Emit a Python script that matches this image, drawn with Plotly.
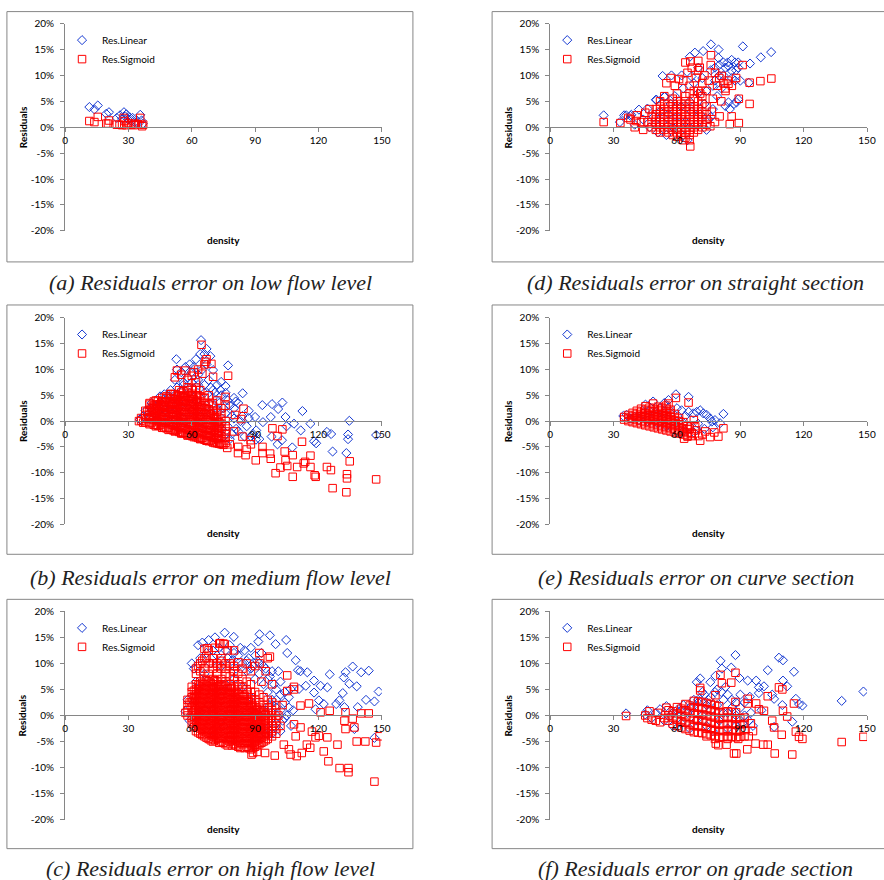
import plotly.graph_objects as go

# ---------------- data (density, residual %) ----------------
# scattered points
a_linear = [(11.5, 3.9), (13.9, 3.45), (15.5, 4.2), (19.5, 2.6), (20.8, 2.9), (24.5, 1.8), (26.0, 2.3),
            (27.0, 1.6), (27.9, 2.9), (28.5, 2.1), (29.0, 2.5), (29.8, 1.5), (30.7, 1.9), (31.5, 1.2),
            (32.0, 1.8), (33.0, 1.0), (34.0, 1.0), (35.6, 2.4), (36.2, 1.3), (36.8, 0.7)]
a_sigmoid = [(11.5, 1.2), (13.9, 1.0), (15.5, 2.0), (19.5, 0.7), (20.3, 0.7), (20.8, 1.3), (24.5, 0.5),
             (25.8, 0.5), (27.0, 0.4), (27.7, 1.8), (28.2, 1.2), (29.0, 0.4), (30.0, 0.8), (31.4, 0.5),
             (32.5, 0.4), (33.3, 0.7), (34.5, 0.6), (35.6, 1.8), (36.5, 0.2), (37.0, 0.5)]

b_linear = [(35.5, 0.3), (37, 1.0), (38, 2.0), (39, 1.2), (40, 0.5), (40.5, 2.5), (41, 3.5), (42, 1.5),
            (43, 0.2), (44, 2.8), (45, 3.8), (46, 1.0), (47, 2.2), (48, 4.2), (49, 0.0), (50, 3.0),
            (49, 5.0), (51, 1.5), (52, 4.5), (53, -0.5), (54, 2.5), (55, 6.0), (56, 0.5), (57, 3.5),
            (58, -1.5), (59, 5.5), (60, 2.0), (52, 8.0), (53, 10.0), (55, 9.5), (57, 10.5), (59, 11.0),
            (56, 7.5), (58, 8.5), (60, 9.5), (61, -2.5), (62, 4.0), (63, 7.0), (64, 1.0), (65, -1.5),
            (66, 5.5), (67, 3.0), (68, -3.0), (69, 1.5), (70, 4.5), (61, 10.5), (63, 9.0), (65, 10.0),
            (67, 11.0), (68, 8.0), (70, 6.0), (62, 12.0), (64, 13.0), (71, -2.0), (72, 2.5), (73, 0.0),
            (74, 5.0), (75, -3.0), (76, 1.5), (77, -1.0), (78, 3.0), (72, 7.0), (74, -1.5), (79, -2.5),
            (80, 0.5), (82, -2.0), (84, 1.0), (86, -1.0), (88, -3.0), (78, -3.5), (80, 2.5), (81, -1.5),
            (83, 0.0), (85, -3.0), (87, 2.0), (89, -2.5), (90, 0.8), (92, -3.5), (80, 4.5), (76, 5.5),
            (82, 3.5), (45, 4.8), (47, 5.2), (50, 6.0), (53, 6.5), (56, 7.0), (60, 7.5), (63, 8.0),
            (66, 7.0), (69, 6.5), (71, 5.5), (73, 3.5), (75, 2.5), (77, 4.0), (79, 1.0),
            (64.4, 15.7), (52.7, 12.0), (77.2, 10.8), (84.1, 5.4), (80.8, 3.8), (93.4, 3.1),
            (98.0, 3.3), (102.9, 3.6), (100.9, 2.35), (112.4, 1.95), (134.6, 0.06), (116.2, -0.5),
            (124.0, -2.1), (126.0, -2.5), (134.0, -2.6), (134.0, -3.5), (126.7, -5.9), (133.2, -6.2),
            (147.3, -2.7), (118.9, -4.3), (117.9, -3.9), (111.6, -1.8), (108.4, -0.5), (104.9, -1.0),
            (104.4, 0.8), (97.4, 0.8), (93.7, -0.2), (90.5, -1.8), (87.0, 0.6), (90.4, -3.6),
            (97.8, -3.0), (107.6, -5.1), (100.6, -4.5), (102.7, -3.7), (73.9, 7.6), (70.1, 9.9),
            (68.8, 12.6), (67.0, 14.0), (66.0, 13.0), (73.6, 6.0), (76.0, 6.8)]
b_sigmoid = [(35, 0.0), (37, -0.3), (40, -0.6), (43, -1.0), (46, -1.3), (49, -1.7), (52, -2.0), (55, -2.4),
             (58, -2.8), (61, -3.1), (64, -3.5), (67, -3.8), (70, -4.1), (73, -4.4), (75, -4.6),
             (39, 1.8), (42, 2.5), (47, 3.0), (51, 3.5), (56, 4.0), (63, 5.0), (40, 3.5), (43, 4.0),
             (46, 3.8), (48, 4.5), (50, 5.2), (53, 4.8), (55, 5.5), (58, 6.0), (60, 5.0), (62, 6.5),
             (64, 6.0), (66, 4.5), (68, 5.0), (70, 3.5), (72, 4.0), (74, 2.5), (76, 3.0), (52, 8.5),
             (53, 9.8), (55, 9.0), (57, 9.8), (58, 8.0), (60, 8.8), (61, 9.5), (63, 10.0), (65, 9.2),
             (66, 11.0), (67, 12.0), (64.6, 14.8), (62, 7.5), (66.5, 11.5), (69.3, 11.1), (70.1, 8.6),
             (77.2, 8.8), (76.0, 4.7), (84.5, 2.4), (80.5, 1.2), (83.4, 0.4), (78, -4.5), (80, -2.0),
             (82, -5.0), (84, -3.0), (86, -5.5), (88, -4.5), (76, -2.5), (76.8, -5.2), (81.9, -6.2),
             (85.5, -6.6), (90.3, -7.6), (87.9, -3.7), (93.5, -5.0), (93.5, -6.2), (97.1, -6.3),
             (97.4, -7.3), (98.2, -1.4), (100.6, -2.9), (102.9, -1.6), (99.7, -10.1), (102.0, -9.0),
             (104.4, -7.6), (105.2, -8.7), (104.0, -5.9), (107.8, -6.6), (107.8, -10.8), (109.9, -8.9),
             (112.2, -4.0), (113.0, -8.2), (113.7, -7.9), (116.2, -6.7), (116.2, -8.9), (118.2, -10.5),
             (118.7, -10.8), (124.0, -8.9), (125.9, -9.5), (126.7, -13.0), (133.5, -10.3),
             (133.5, -11.1), (133.2, -13.8), (134.8, -7.8), (147.3, -11.3)]

c_linear = [(57, 0.8), (58, 3.0), (59, -1.0), (60, 10.0), (61, 9.0), (62, 6.5), (63, 13.5), (64, 11.0),
            (65, 14.0), (66, 8.0), (67, 12.0), (68, 14.5), (69, 10.0), (70, 12.5), (71, 15.0), (72, 11.5),
            (73, 13.0), (74, 9.5), (76, 12.5), (77, 11.0), (78, 13.5), (79, 10.5), (80, 12.0), (81, 9.0),
            (82, 11.5), (83, 13.0), (84, 10.0), (85, 12.5), (86, 8.5), (87, 11.0), (88, 13.0), (89, 9.5),
            (90, 7.0), (91, 10.5), (92, 8.0), (93, 12.0), (94, 6.0), (95, 9.0), (96, 4.5), (97, 7.5),
            (98, 3.0), (99, 6.0), (100, 1.5), (101, 8.5), (102, 4.0), (103, -1.0), (104, 2.5), (105, 0.0),
            (106, 3.5), (107, -2.0), (108, 1.0), (96, -2.5), (98, -3.5), (100, -1.5), (102, -3.0),
            (92, -4.0), (88, 3.5), (84, 5.5), (80, 7.0), (76, 6.0), (72, 4.5), (68, 2.0), (64, 0.5),
            (70, -3.0), (75, -2.0), (86, 10.5), (88, 9.0), (90, 11.5), (92, 10.0), (94, 9.5), (96, 7.0),
            (98, 8.5), (100, 5.0), (102, 6.5), (104, 4.5), (106, 1.5), (100, 3.0), (97, 2.0), (94, 1.0),
            (90, 0.5), (102, 1.0), (104, -0.5), (99, -2.0), (95, -3.5),
            (75.6, 15.9), (79.9, 15.1), (92.1, 15.6), (97.0, 15.4), (99.7, 13.7),
            (104.7, 14.5), (105.2, 12.0), (109.2, 10.6), (110.3, 8.7), (111.5, 8.5), (114.7, 8.3),
            (117.9, 6.7), (121.0, 5.7), (125.3, 7.9), (124.2, 5.4), (132.8, 8.3), (132.0, 7.3),
            (136.2, 9.4), (140.2, 8.3), (143.8, 8.6), (138.1, 5.6), (134.6, 6.1), (131.5, 4.3),
            (129.9, 2.9), (128.4, 2.2), (142.5, 3.0), (148.5, 4.6), (146.5, 2.7), (138.6, 1.6),
            (132.3, 1.6), (137.0, -2.6), (146.5, -4.3), (120.2, 2.9), (118.6, 1.2), (122.5, 2.2),
            (117.9, 4.4), (114.0, 5.7), (110.8, 5.1), (106.8, 5.1), (91.5, 14.2)]
c_sigmoid = [(66, 12.8), (68, 12.5), (71, 13.0), (73, 13.8), (75, 13.8), (77, 12.5), (80, 12.5),
             (62, 9.0), (63, 9.5), (65, 10.5), (67, 11.0), (70, 10.0), (72, 9.5), (74, 10.5), (76, 9.0),
             (78, 10.0), (80, 9.5), (82, 10.2), (84, 9.0), (86, 10.0), (88, 8.5), (90, 9.5), (92, 12.0),
             (96, 11.0), (93, 6.5), (95, 8.5), (98, 6.0), (89, -7.2), (91, -7.0), (57, 0.5), (59, 2.5),
             (75.6, 13.7), (73.5, 13.9), (67.2, 12.9), (97.0, 11.3), (92.1, 10.0),
             (105.2, 7.7), (108.4, 5.5), (108.4, 5.0), (105.2, 4.7), (111.5, 1.9), (115.5, 2.3),
             (121.0, 0.6), (125.3, 0.9), (132.8, 0.6), (132.3, -1.0), (136.2, -0.6), (140.2, 0.4),
             (143.8, 0.4), (132.8, -2.6), (137.0, -2.3), (138.1, -5.0), (142.2, -5.0), (147.3, -5.2),
             (148.9, -4.0), (146.5, -12.7), (134.2, -10.1), (134.2, -10.9), (130.0, -10.1),
             (124.7, -8.8), (129.0, -5.6), (122.5, -6.9), (116.9, -3.1), (118.6, -4.2), (124.2, -4.2),
             (120.2, -3.9), (116.1, -6.2), (114.5, -5.6), (109.7, -7.8), (112.1, -7.2), (106.8, -7.5),
             (106.0, -6.5), (99.3, -7.7), (103.6, -5.6), (109.2, -4.0), (111.5, -2.3), (108.4, -1.7),
             (88.3, -7.5), (94.7, -7.2), (89.9, -5.6), (101, 0.0), (102, -2.0), (103, 2.0)]

d_linear = [(33, 1.0), (35, 2.3), (38, 2.2), (40, 0.5), (42, 3.4), (44, 1.5), (46, 3.6), (47, 0.0),
            (49, 2.0), (50, 5.3), (51, -1.0), (52, 3.0), (53, 1.0), (54, 5.9), (55, -1.5), (56, 2.5),
            (57, 4.5), (58, 0.0), (59, 6.0), (60, 2.0), (61, -1.0), (62, 4.0), (63, 7.5), (64, 1.0),
            (65, -2.5), (66, 5.0), (67, 3.0), (68, 8.5), (69, 0.5), (70, 6.5), (71, 2.5), (72, 9.5),
            (73, 4.5), (74, 7.0), (75, 1.5), (76, 11.0), (77, 3.5), (78, 9.0), (79, 6.0), (80, 12.0),
            (81, 7.5), (82, 10.0), (83, 11.5), (84, 12.5), (86, 9.5), (88, 11.0), (89, 12.5), (90, 9.0),
            (85, 3.5), (87, 4.5), (76, 2.0), (74, -0.5), (25.3, 2.3), (76.1, 16.0), (91.2, 15.6),
            (104.6, 14.5), (99.7, 13.5), (94.6, 12.3), (68.5, 14.4), (66.1, 13.6), (72.4, 14.7),
            (79.7, 15.0), (85.9, 13.0), (87.5, 12.5), (89.0, 11.5), (79.6, 13.4), (84.4, 11.8),
            (85.9, 10.9), (87.5, 9.0), (89.0, 5.4), (84.4, 4.8), (82.9, 4.1), (88.2, 4.8), (94.0, 8.6),
            (53.2, 9.9), (57.4, 10.0), (62.2, 10.0), (66.9, 9.8), (70.1, 11.5), (36.0, 2.3),
            (38.4, 2.4), (50.3, 5.3), (54.3, 5.9), (78, 11.5), (80, 10.0), (82, 12.5), (77, 8.0)]
d_sigmoid = [(38, 1.5), (40, 0.0), (41, 2.3), (43, 1.0), (44, -0.5), (45, 2.8), (46, 1.0), (47, 3.5),
             (55, 8.5), (57, 9.5), (59, 8.0), (61, 9.3), (60, 6.5), (63, 9.0), (64, 12.5), (65, 10.5),
             (66, 8.0), (67, 11.5), (68, 7.0), (69, 9.5), (70, 11.0), (71, 6.5), (72, 8.5), (73, 10.0),
             (74, 7.0), (75, 9.0), (76, 12.0), (77, 5.5), (78, 10.5), (79, 8.0), (80, 9.5), (81, 5.0),
             (82, 8.5), (83, 7.0), (84, 9.0), (86, 8.0), (88, 9.5), (66.3, -3.7), (63, -2.5), (60, -1.8),
             (58, 5.5), (54, 6.0), (52, 5.0), (25.3, 1.0), (33.2, 0.8), (36.9, 1.8), (40.8, 1.2),
             (76.1, 13.9), (70.1, 12.8), (66.3, 12.7), (70.8, 11.5), (91.1, 12.0), (99.5, 8.9),
             (104.7, 9.4), (94.4, 8.6), (94.4, 4.5), (89.3, 5.5), (89.3, 0.8), (85.9, 2.1), (85.0, 0.6),
             (80.2, 2.1), (81.2, 9.9), (84.4, 8.4), (82.9, 7.5), (75.8, 0.2), (76.5, 3.0), (78, 1.0)]

e_linear = [(34.6, 1.0), (36.2, 1.2), (38, 0.5), (40, 0.8), (42, 0.2), (44, 1.5), (45.1, 3.2), (46, 0.0),
            (47, 2.0), (48.7, 3.8), (50, 1.0), (51, -0.5), (52, 2.5), (53, 0.5), (54, 3.5), (55, -1.0),
            (56, 4.1), (57, 1.5), (58, -1.5), (59.5, 5.2), (60, 2.5), (61, 0.0), (62.2, 2.1), (63, -2.0),
            (64, 1.0), (65.5, 4.7), (65.5, 1.8), (66, -1.0), (67.8, 1.5), (69.4, 1.8), (70, -0.5),
            (71, 2.1), (72.5, 1.5), (73, -1.5), (74.1, 1.2), (75.7, 0.5), (76.5, -0.1), (78, 0.2),
            (80.4, -0.4), (82, 1.4), (77, -1.2), (68, -2.2)]
e_sigmoid = [(45.1, 2.9), (48.7, 3.4), (56, 3.4), (59.5, 4.5), (63.4, -3.4), (65, -3.0), (65.5, 3.6),
             (66, -1.5), (67, -2.5), (68.6, -1.0), (70.2, -2.9), (71, -3.8), (73.4, -2.0), (75.7, -3.1),
             (77.7, -2.2), (79.6, -3.0), (82, -1.4), (69, -1.8), (72, -2.6), (68, 0.2)]

f_linear = [(35.9, 0.4), (45, 0.2), (46, 1.0), (48, -0.5), (50, 0.5), (52, 1.2), (54, -1.0), (55, 1.8),
            (57, 0.0), (58, -2.0), (60, 1.0), (62, -1.5), (63, 2.0), (65, 0.5), (66, -2.5), (67, 1.5),
            (68, 3.0), (69, -1.0), (70, 2.5), (71, 7.1), (69.4, 6.4), (72, 0.0), (73, 4.0), (74, -2.0),
            (75, 3.0), (75.8, 6.4), (76, 1.0), (77, -3.0), (78.2, 7.6), (79, 2.0), (80, -1.0),
            (80.6, 10.5), (81, 4.5), (82, 0.5), (83, 5.5), (84, -2.5), (85.7, 9.2), (86, 3.0),
            (87.7, 11.6), (88, 0.0), (89.6, 7.2), (90, 4.0), (91, -1.5), (92, 2.5), (93.5, 6.7),
            (94.5, 3.6), (95, 0.5), (96, -2.0), (97.5, 6.7), (98.8, 5.4), (98.8, 4.3), (100, 1.0),
            (101.2, 5.6), (103, 8.7), (105.1, 4.0), (106, 3.2), (106, -2.2), (108.3, 11.1), (109.9, 2.0),
            (110.2, 10.6), (110.2, 6.7), (112.2, 5.6), (114.6, -1.2), (115.4, 8.4), (116.3, 3.2),
            (117.8, 2.2), (119.4, 1.9), (138, 2.8), (148.3, 4.6), (81.3, 9.0), (78, 4.5), (58, 0.5),
            (62, 1.0), (66, 1.5), (70, 3.0), (72, 4.5), (74, 2.0), (76, 3.5), (79, 5.0), (82, 3.0),
            (84, 4.0), (86, 1.5), (88, 2.5), (90, 1.5), (92, 0.0), (94, -1.0), (88, -2.0), (84, 0.5)]
f_sigmoid = [(35.9, -0.1), (45, 0.0), (46, -0.5), (47, 0.8), (48, -0.8), (50, -1.0), (51, 0.5), (52, -1.3),
             (54, -0.5), (55, 1.5), (71, 5.3), (71, 4.8), (78.2, 3.9), (80.6, 7.8), (81.3, 6.2),
             (85.7, 6.3), (87.7, 8.2), (87.7, 2.6), (93.5, 3.2), (93.5, 2.3), (97.5, 2.3), (98.8, 1.2),
             (101.2, 0.9), (103, 3.7), (105.1, -1.0), (106, -2.3), (108.3, 5.4), (109.9, 5.0),
             (110.2, 0.9), (112.2, -0.2), (115.4, 2.3), (109.6, -3.7), (116.3, -3.1), (117.8, -4.1),
             (119.4, -4.5), (114.6, -7.5), (106.3, -7.3), (100.9, -5.6), (103, -5.6), (97.2, -5.4),
             (93.3, -6.5), (87, -7.3), (88.1, -7.3), (83.5, -5.6), (79.6, -5.7), (78.4, -5.4),
             (138, -5.1), (148.3, -4.1), (96, -3.0), (95, -1.5), (74, -4.0), (78, -4.5), (84, -4.5),
             (89, -4.5), (94, -4.0)]

# dense cores of the clouds, read column by column: density -> residuals (%)
b_sigmoid_core = {36: [0.1, 0.6], 38: [-0.2, 0.5, 1.2, 2.0], 40: [-0.4, 0.4, 1.2, 2.2, 3.2],
                  42: [-0.7, 0.2, 1.0, 2.0, 3.0, 3.8], 44: [-0.9, 0.0, 1.0, 2.0, 3.0, 4.0],
                  46: [-1.2, -0.2, 0.8, 1.8, 2.8, 3.8, 4.5], 48: [-1.4, -0.4, 0.6, 1.6, 2.6, 3.6, 4.8],
                  50: [-1.6, -0.6, 0.4, 1.4, 2.4, 3.4, 4.4, 5.3], 52: [-1.9, -0.9, 0.2, 1.2, 2.2, 3.2, 4.2, 5.2],
                  54: [-2.1, -1.1, 0.0, 1.0, 2.0, 3.0, 4.0, 5.0, 6.0],
                  56: [-2.4, -1.4, -0.3, 0.8, 1.8, 2.8, 3.8, 4.8, 5.8],
                  58: [-2.6, -1.6, -0.5, 0.5, 1.5, 2.5, 3.5, 4.5, 5.5, 6.5],
                  60: [-2.9, -1.9, -0.8, 0.3, 1.3, 2.3, 3.3, 4.3, 5.3, 6.3],
                  62: [-3.1, -2.1, -1.0, 0.0, 1.0, 2.0, 3.0, 4.0, 5.0, 6.0],
                  64: [-3.4, -2.4, -1.3, -0.2, 0.8, 1.8, 2.8, 3.8, 4.8],
                  66: [-3.6, -2.6, -1.5, -0.5, 0.5, 1.5, 2.5, 3.5, 4.5],
                  68: [-3.9, -2.9, -1.8, -0.8, 0.3, 1.3, 2.3, 3.3], 70: [-4.1, -3.1, -2.0, -1.0, 0.0, 1.0, 2.0, 3.0],
                  72: [-4.3, -3.3, -2.3, -1.3, -0.2, 0.8, 1.8], 74: [-4.5, -3.5, -2.5, -1.5, -0.5, 0.5, 1.5],
                  76: [-4.2, -3.2, -2.0, -1.0, 0.0],
                  41: [-0.25, 0.75, 1.75, 2.75], 43: [-0.75, 0.25, 1.25, 2.25, 3.25],
                  45: [-0.75, 0.25, 1.25, 2.25, 3.25], 47: [-1.25, -0.25, 0.75, 1.75, 2.75, 3.75],
                  49: [-1.25, -0.25, 0.75, 1.75, 2.75, 3.75], 51: [-1.75, -0.75, 0.25, 1.25, 2.25, 3.25, 4.25],
                  53: [-1.75, -0.75, 0.25, 1.25, 2.25, 3.25, 4.25],
                  55: [-2.25, -1.25, -0.25, 0.75, 1.75, 2.75, 3.75, 4.75],
                  57: [-2.25, -1.25, -0.25, 0.75, 1.75, 2.75, 3.75, 4.75],
                  59: [-2.75, -1.75, -0.75, 0.25, 1.25, 2.25, 3.25, 4.25],
                  61: [-2.75, -1.75, -0.75, 0.25, 1.25, 2.25, 3.25, 4.25],
                  63: [-3.25, -2.25, -1.25, -0.25, 0.75, 1.75, 2.75, 3.75],
                  65: [-3.25, -2.25, -1.25, -0.25, 0.75, 1.75, 2.75],
                  67: [-3.75, -2.75, -1.75, -0.75, 0.25, 1.25, 2.25],
                  69: [-3.75, -2.75, -1.75, -0.75, 0.25, 1.25], 71: [-4.25, -3.25, -2.25, -1.25, -0.25, 0.75],
                  73: [-4.25, -3.25, -2.25, -1.25, -0.25]}
c_sigmoid_core = {58: [0.0, 1.0, 2.0, 3.0],
                  60: [-1.5, -0.5, 0.5, 1.5, 2.5, 3.5, 4.5, 5.5],
                  62: [-3.0, -2.0, -1.0, 0.0, 1.0, 2.0, 3.0, 4.0, 5.0, 6.0, 8.0],
                  64: [-3.5, -2.5, -1.5, -0.5, 0.5, 1.5, 2.5, 3.5, 4.5, 5.5, 6.5, 8.5, 10.0],
                  66: [-4.0, -3.0, -2.0, -1.0, 0.0, 1.0, 2.0, 3.0, 4.0, 5.0, 6.0, 7.0, 9.0, 11.0],
                  68: [-4.5, -3.5, -2.5, -1.5, -0.5, 0.5, 1.5, 2.5, 3.5, 4.5, 5.5, 6.5, 8.0, 10.0],
                  70: [-5.0, -4.0, -3.0, -2.0, -1.0, 0.0, 1.0, 2.0, 3.0, 4.0, 5.0, 6.0, 7.0, 9.0, 11.0],
                  72: [-4.5, -3.5, -2.5, -1.5, -0.5, 0.5, 1.5, 2.5, 3.5, 4.5, 5.5, 6.5, 8.0, 10.0],
                  74: [-5.0, -4.0, -3.0, -2.0, -1.0, 0.0, 1.0, 2.0, 3.0, 4.0, 5.0, 6.0, 7.0, 9.0, 11.0],
                  76: [-5.5, -4.5, -3.5, -2.5, -1.5, -0.5, 0.5, 1.5, 2.5, 3.5, 4.5, 5.5, 6.5, 8.0, 10.0],
                  78: [-5.0, -4.0, -3.0, -2.0, -1.0, 0.0, 1.0, 2.0, 3.0, 4.0, 5.0, 6.0, 7.5, 9.5],
                  80: [-5.5, -4.5, -3.5, -2.5, -1.5, -0.5, 0.5, 1.5, 2.5, 3.5, 4.5, 5.5, 7.0, 8.5],
                  82: [-6.0, -5.0, -4.0, -3.0, -2.0, -1.0, 0.0, 1.0, 2.0, 3.0, 4.0, 5.0, 6.0, 8.0],
                  84: [-5.5, -4.5, -3.5, -2.5, -1.5, -0.5, 0.5, 1.5, 2.5, 3.5, 4.5, 5.5, 7.0],
                  86: [-6.0, -5.0, -4.0, -3.0, -2.0, -1.0, 0.0, 1.0, 2.0, 3.0, 4.0, 5.0, 6.5],
                  88: [-6.5, -5.5, -4.5, -3.5, -2.5, -1.5, -0.5, 0.5, 1.5, 2.5, 3.5, 4.5, 6.0],
                  90: [-6.0, -5.0, -4.0, -3.0, -2.0, -1.0, 0.0, 1.0, 2.0, 3.0, 4.5],
                  92: [-5.5, -4.5, -3.5, -2.5, -1.5, -0.5, 0.5, 1.5, 2.5, 4.0],
                  94: [-5.0, -4.0, -3.0, -2.0, -1.0, 0.0, 1.0, 2.0, 3.5],
                  96: [-4.5, -3.5, -2.5, -1.5, -0.5, 0.5, 1.5, 3.0],
                  98: [-4.0, -3.0, -2.0, -1.0, 0.0, 1.0, 2.5],
                  100: [-3.5, -2.5, -1.5, -0.5, 0.5, 2.0],
                  61: [-2.25, -1.25, -0.25, 0.75, 1.75, 2.75, 3.75, 4.75],
                  63: [-3.25, -2.25, -1.25, -0.25, 0.75, 1.75, 2.75, 3.75, 4.75, 5.75],
                  65: [-3.75, -2.75, -1.75, -0.75, 0.25, 1.25, 2.25, 3.25, 4.25, 5.25, 6.25],
                  67: [-4.25, -3.25, -2.25, -1.25, -0.25, 0.75, 1.75, 2.75, 3.75, 4.75, 5.75, 6.75],
                  69: [-4.75, -3.75, -2.75, -1.75, -0.75, 0.25, 1.25, 2.25, 3.25, 4.25, 5.25, 6.25],
                  71: [-4.75, -3.75, -2.75, -1.75, -0.75, 0.25, 1.25, 2.25, 3.25, 4.25, 5.25, 6.75],
                  73: [-5.25, -4.25, -3.25, -2.25, -1.25, -0.25, 0.75, 1.75, 2.75, 3.75, 4.75, 5.75],
                  75: [-5.25, -4.25, -3.25, -2.25, -1.25, -0.25, 0.75, 1.75, 2.75, 3.75, 4.75, 5.75],
                  77: [-5.75, -4.75, -3.75, -2.75, -1.75, -0.75, 0.25, 1.25, 2.25, 3.25, 4.25, 5.25],
                  79: [-5.75, -4.75, -3.75, -2.75, -1.75, -0.75, 0.25, 1.25, 2.25, 3.25, 4.25, 5.25],
                  81: [-5.75, -4.75, -3.75, -2.75, -1.75, -0.75, 0.25, 1.25, 2.25, 3.25, 4.25],
                  83: [-6.25, -5.25, -4.25, -3.25, -2.25, -1.25, -0.25, 0.75, 1.75, 2.75, 3.75],
                  85: [-6.25, -5.25, -4.25, -3.25, -2.25, -1.25, -0.25, 0.75, 1.75, 2.75, 3.75],
                  87: [-6.25, -5.25, -4.25, -3.25, -2.25, -1.25, -0.25, 0.75, 1.75, 2.75],
                  89: [-6.25, -5.25, -4.25, -3.25, -2.25, -1.25, -0.25, 0.75, 1.75],
                  91: [-5.75, -4.75, -3.75, -2.75, -1.75, -0.75, 0.25, 1.25],
                  93: [-5.25, -4.25, -3.25, -2.25, -1.25, -0.25, 0.75],
                  95: [-4.75, -3.75, -2.75, -1.75, -0.75, 0.25]}
d_sigmoid_core = {48: [0.0, 1.0, 2.0], 50: [-0.5, 0.5, 1.5, 2.5, 3.5], 52: [-1.0, 0.0, 1.0, 2.0, 3.0, 4.0],
                  54: [-0.5, 0.5, 1.5, 2.5, 3.5, 4.5], 56: [-1.0, 0.0, 1.0, 2.0, 3.0, 4.0],
                  58: [-1.5, -0.5, 0.5, 1.5, 2.5, 3.5, 4.5], 60: [-1.0, 0.0, 1.0, 2.0, 3.0, 4.0, 5.0],
                  62: [-1.5, -0.5, 0.5, 1.5, 2.5, 3.5, 4.5], 64: [-2.0, -1.0, 0.0, 1.0, 2.0, 3.0, 4.0, 5.0, 6.0],
                  66: [-2.5, -1.5, -0.5, 0.5, 1.5, 2.5, 3.5, 4.5, 6.5], 68: [-1.0, 0.0, 1.0, 2.0, 3.0, 4.0, 5.5],
                  70: [-0.5, 0.5, 1.5, 2.5, 3.5, 5.0, 7.0], 72: [0.0, 1.0, 2.0, 3.0, 4.5, 6.0],
                  74: [0.5, 1.5, 2.5, 4.0]}
e_sigmoid_core = {35: [0.3, 0.8], 37: [0.0, 0.6, 1.2], 39: [-0.2, 0.4, 1.0, 1.6],
                  41: [-0.4, 0.2, 0.8, 1.4, 2.0], 43: [-0.6, 0.0, 0.6, 1.2, 1.8, 2.4],
                  45: [-0.8, -0.2, 0.4, 1.0, 1.6, 2.2], 47: [-1.0, -0.4, 0.2, 0.8, 1.4, 2.0, 2.6],
                  49: [-1.2, -0.6, 0.0, 0.6, 1.2, 1.8, 2.4], 51: [-1.4, -0.8, -0.2, 0.4, 1.0, 1.6, 2.2, 2.8],
                  53: [-1.6, -1.0, -0.4, 0.2, 0.8, 1.4, 2.0, 2.6], 55: [-1.8, -1.2, -0.6, 0.0, 0.6, 1.2, 1.8, 2.4, 3.0],
                  57: [-2.0, -1.4, -0.8, -0.2, 0.4, 1.0, 1.6, 2.2], 59: [-2.2, -1.6, -1.0, -0.4, 0.2, 0.8, 1.4],
                  61: [-2.4, -1.8, -1.2, -0.6, 0.0, 0.6], 63: [-2.6, -2.0, -1.4, -0.8, -0.2],
                  65: [-2.8, -2.2, -1.6, -1.0], 67: [-2.9, -2.3]}
f_sigmoid_core = {56: [-1.0, 0.0, 1.0], 58: [-1.6, -0.4, 0.8], 60: [-2.0, -0.8, 0.4, 1.6],
                  62: [-2.3, -1.1, 0.1, 1.3], 64: [-2.6, -1.4, -0.2, 1.0, 2.2], 66: [-2.9, -1.7, -0.5, 0.7, 1.9],
                  68: [-3.2, -2.0, -0.8, 0.4, 1.6, 2.8], 70: [-3.3, -2.1, -0.9, 0.3, 1.5, 2.7],
                  72: [-3.4, -2.2, -1.0, 0.2, 1.4, 2.6], 74: [-3.6, -2.4, -1.2, 0.0, 1.2, 2.4],
                  76: [-3.8, -2.6, -1.4, -0.2, 1.0, 2.2], 78: [-4.0, -2.8, -1.6, -0.4, 0.8, 2.0],
                  80: [-4.2, -3.0, -1.8, -0.6, 0.6, 1.8], 82: [-4.1, -2.9, -1.7, -0.5, 0.7],
                  84: [-4.0, -2.8, -1.6, -0.4, 0.8], 86: [-4.1, -2.9, -1.7, -0.5, 0.7],
                  88: [-4.2, -3.0, -1.8, -0.6, 0.6], 90: [-4.1, -2.9, -1.7, -0.5], 92: [-4.0, -2.8, -1.6, -0.4]}

captions = ["(a) Residuals error on low flow level", "(d) Residuals error on straight section",
            "(b) Residuals error on medium flow level", "(e) Residuals error on curve section",
            "(c) Residuals error on high flow level", "(f) Residuals error on grade section"]
series_names = ["Res.Linear", "Res.Sigmoid"]
x_ticks = [0, 30, 60, 90, 120, 150]
y_ticks = [-20, -15, -10, -5, 0, 5, 10, 15, 20]
y_ticktext = [f"{v}%" for v in y_ticks]


def with_core(points, core):
    pts = list(points)
    for xv, ys in core.items():
        pts.extend((xv, yv) for yv in ys)
    return pts


# ---------------- layout geometry (target pixels in the picture) ----------------
W, H = 884, 880
# the captured page comes out slightly shrunk; these undo it
SCALE, OFF_X, OFF_Y = 0.984, 3.1, 7.4
col_plot = [(65, 381), (549, 865)]
col_box = [(7, 412), (491, 905)]
col_cap = [210, 694]
row_plot = [(24, 231), (318, 524), (611, 819)]
row_box = [(12, 262), (305, 554), (599, 848)]
row_cap = [283, 577, 868]

panels = [(a_linear, a_sigmoid, 0, 0),
          (d_linear, with_core(d_sigmoid, d_sigmoid_core), 0, 1),
          (b_linear, with_core(b_sigmoid, b_sigmoid_core), 1, 0),
          (e_linear, with_core(e_sigmoid, e_sigmoid_core), 1, 1),
          (c_linear, with_core(c_sigmoid, c_sigmoid_core), 2, 0),
          (f_linear, with_core(f_sigmoid, f_sigmoid_core), 2, 1)]

BLUE = "#1438D2"
RED = "#FF0000"
AXIS = "#868686"
SANS = "Lato, Liberation Sans, sans-serif"
TICKFONT = dict(family=SANS, size=10, color="#000000")

fig = go.Figure()
shapes, annotations = [], []
layout = {}


def px_x(p):
    return ((p - OFF_X) / SCALE) / W


def px_y(p):
    return 1 - ((p - OFF_Y) / SCALE) / H


for i, (lin, sig, r, c) in enumerate(panels):
    n = i + 1
    sfx = "" if n == 1 else str(n)
    xa, ya = "x" + sfx, "y" + sfx
    lg = "legend" + sfx
    xd = [px_x(col_plot[c][0]), px_x(col_plot[c][1])]
    yd = [px_y(row_plot[r][1]), px_y(row_plot[r][0])]

    for data, name, sym, col, size in [(lin, series_names[0], "diamond-open", BLUE, 7),
                                       (sig, series_names[1], "square-open", RED, 7.5)]:
        fig.add_trace(go.Scatter(
            x=[p[0] for p in data], y=[p[1] for p in data], mode="markers", name=name,
            xaxis=xa, yaxis=ya, legend=lg,
            marker=dict(symbol=sym, size=size, color=col, line=dict(width=1, color=col))))

    layout["xaxis" + sfx] = dict(
        domain=xd, range=[0, 150], tickvals=x_ticks, anchor="free", position=(yd[0] + yd[1]) / 2,
        showline=True, linecolor=AXIS, linewidth=1, ticks="outside", ticklen=4, tickcolor=AXIS,
        showgrid=False, zeroline=False, tickfont=TICKFONT, fixedrange=True)
    layout["yaxis" + sfx] = dict(
        domain=yd, range=[-20, 20], tickvals=y_ticks, ticktext=y_ticktext, anchor=xa,
        showline=True, linecolor=AXIS, linewidth=1, ticks="outside", ticklen=4, tickcolor=AXIS,
        showgrid=False, zeroline=False, tickfont=TICKFONT, fixedrange=True, ticklabelstandoff=4)
    layout[lg] = dict(
        x=px_x(col_plot[c][0] - 3), y=px_y(row_plot[r][0] + 2), xanchor="left", yanchor="top",
        bgcolor="rgba(0,0,0,0)", borderwidth=0, font=dict(family=SANS, size=10, color="#000000"))

    shapes.append(dict(type="rect", xref="paper", yref="paper",
                       x0=px_x(col_box[c][0]), x1=px_x(col_box[c][1]),
                       y0=px_y(row_box[r][1]), y1=px_y(row_box[r][0]),
                       line=dict(color=AXIS, width=1)))
    annotations.append(dict(text="<b>Residuals</b>", textangle=-90, xref="paper", yref="paper",
                            x=px_x(col_plot[c][0] - 42), y=(yd[0] + yd[1]) / 2, showarrow=False,
                            xanchor="center", yanchor="middle",
                            font=dict(family=SANS, size=10, color="#000")))
    annotations.append(dict(text="<b>density</b>", xref="paper", yref="paper",
                            x=(xd[0] + xd[1]) / 2, y=px_y(row_plot[r][1] + 9), showarrow=False,
                            xanchor="center", yanchor="middle",
                            font=dict(family=SANS, size=10, color="#000")))
    annotations.append(dict(text="<i>" + captions[i] + "</i>", xref="paper", yref="paper",
                            x=px_x(col_cap[c]), y=px_y(row_cap[r]), showarrow=False,
                            xanchor="center", yanchor="middle",
                            font=dict(family="Liberation Serif, serif", size=22, color="#222")))

fig.update_layout(width=W, height=H, margin=dict(l=0, r=0, t=0, b=0),
                  paper_bgcolor="white", plot_bgcolor="white", showlegend=True,
                  shapes=shapes, annotations=annotations, **layout)

fig.write_html("out.html")
